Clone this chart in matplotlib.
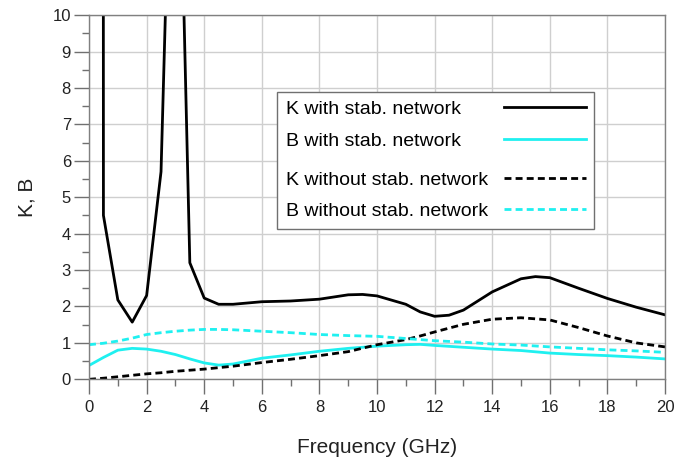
import matplotlib.pyplot as plt
from matplotlib.offsetbox import VPacker
from matplotlib.ticker import MultipleLocator

plt.rcParams['font.family'] = ['Liberation Sans', 'DejaVu Sans']

# K with stabilization network (two resonance spikes at low frequency)
f_k = [0, 0.5, 1, 1.5, 2, 2.5, 3, 3.5, 4, 4.5, 5, 6, 7, 8, 9, 9.5, 10, 11, 11.5,
       12, 12.5, 13, 14, 15, 15.5, 16, 17, 18, 19, 20]
k_stab = [1000, 4.5, 2.18, 1.57, 2.3, 5.7, 20, 3.2, 2.23, 2.06, 2.06, 2.13, 2.15,
          2.2, 2.32, 2.33, 2.29, 2.06, 1.85, 1.73, 1.76, 1.9, 2.4, 2.76, 2.82,
          2.79, 2.5, 2.22, 1.98, 1.77]

f = [0, 0.5, 1, 1.5, 2, 2.5, 3, 3.5, 4, 4.5, 5, 6, 7, 8, 9, 10, 11, 11.5, 12,
     13, 14, 15, 16, 17, 18, 19, 20]
b_stab = [0.38, 0.6, 0.8, 0.85, 0.83, 0.77, 0.68, 0.56, 0.45, 0.39, 0.42, 0.58,
          0.67, 0.77, 0.85, 0.91, 0.95, 0.96, 0.93, 0.88, 0.83, 0.79, 0.72, 0.68,
          0.65, 0.61, 0.56]
k_nostab = [0, 0.03, 0.07, 0.11, 0.15, 0.18, 0.22, 0.25, 0.28, 0.32, 0.36, 0.46,
            0.55, 0.65, 0.76, 0.95, 1.09, 1.19, 1.3, 1.51, 1.65, 1.69, 1.63, 1.42,
            1.19, 1.0, 0.89]
b_nostab = [0.95, 0.99, 1.05, 1.13, 1.23, 1.28, 1.32, 1.35, 1.37, 1.37, 1.36,
            1.32, 1.28, 1.23, 1.2, 1.18, 1.12, 1.09, 1.06, 1.02, 0.97, 0.94, 0.89,
            0.85, 0.81, 0.78, 0.74]

cyan = '#1ff0f0'

fig = plt.figure(figsize=(6.88, 4.57), dpi=100)
ax = fig.add_axes([0.1294, 0.170, 0.8372, 0.797])

ax.plot(f_k, k_stab, color='black', lw=2, label='K with stab. network')
ax.plot(f, b_stab, color=cyan, lw=2, label='B with stab. network')
ax.plot(f, k_nostab, color='black', lw=2, dashes=(2.5, 1.5),
        label='K without stab. network')
ax.plot(f, b_nostab, color=cyan, lw=2, dashes=(2.5, 1.5),
        label='B without stab. network')

ax.set_xlim(0, 20)
ax.set_ylim(0, 10)
ax.xaxis.set_major_locator(MultipleLocator(2))
ax.xaxis.set_minor_locator(MultipleLocator(1))
ax.yaxis.set_major_locator(MultipleLocator(1))
ax.yaxis.set_minor_locator(MultipleLocator(0.5))
ax.grid(True, which='major', color='#cfcfcf', lw=1)
ax.set_axisbelow(True)

for s in ax.spines.values():
    s.set_color('#808080')
    s.set_linewidth(1)
ax.tick_params(which='major', length=11, width=1, color='#707070',
               labelsize=12, labelcolor='#222222')
ax.tick_params(axis='y', pad=2)
ax.tick_params(axis='x', pad=4)
ax.tick_params(which='minor', length=5, width=1, color='#707070')

ax.set_xlabel('Frequency (GHz)', fontsize=15, color='#222222', labelpad=16.5)
ax.set_ylabel('K, B', fontsize=15, color='#222222', labelpad=11.5)

fs = 14
leg = ax.legend(loc='upper left', bbox_to_anchor=(0.326, 0.789), fontsize=fs,
                markerfirst=False, handlelength=4.2, handletextpad=1.6,
                labelspacing=0.7, borderpad=0.45, borderaxespad=0,
                fancybox=False, framealpha=1, edgecolor='#707070')
leg.get_frame().set_linewidth(1)

# left-aligned labels, handles pushed to the right edge, and a wider gap
# between the "with" and "without" pairs
col = leg._legend_handle_box.get_children()[0]
rows = col.get_children()
for row in rows:
    row.mode = 'expand'
    row.width = 300
sep = 0.7 * fs
col._children = [VPacker(children=rows[:2], sep=sep, pad=0, align='left'),
                 VPacker(children=rows[2:], sep=sep, pad=0, align='left')]
col.sep = sep + 6
col.align = 'left'

fig.savefig('out.png', dpi=100)
